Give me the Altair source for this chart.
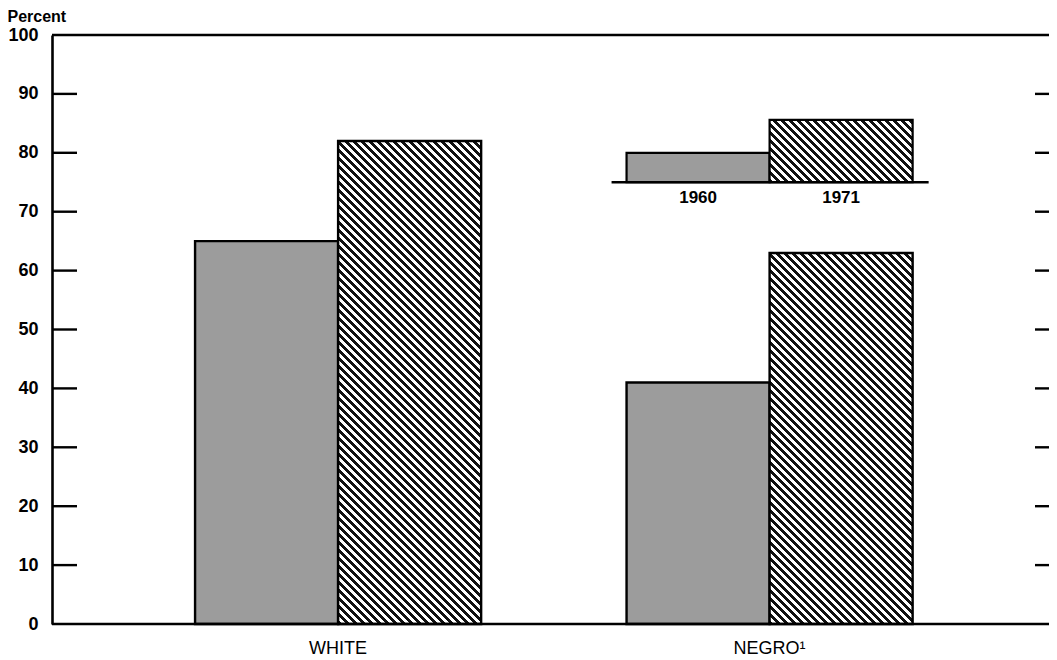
import math
import altair as alt
import pandas as pd

# ---- data ----
groups = ["WHITE", "NEGRO¹"]
years = ["1960", "1971"]
white_values = [65, 82]
negro_values = [41, 63]
tick_values = [0, 10, 20, 30, 40, 50, 60, 70, 80, 90, 100]
inner_ticks = [10, 20, 30, 40, 50, 60, 70, 80, 90]
legend_years = ["1960", "1971"]
legend_base = 75
legend_tops = [80, 85.6]

# ---- layout ----
W, H = 997, 589
PAD_INNER, PAD_OUTER, ALIGN = 0.337, 0.3238, 0.512
FONT = "Liberation Sans"
GRAY = "#9c9c9c"

step = W / (len(groups) - PAD_INNER + 2 * PAD_OUTER)
bar_w = step * (1 - PAD_INNER) / 2


def hatch(w, h, period=5.66, frac=0.5):
    """Diagonal '\\' hatch as a hard-stop linear gradient on a w x h box."""
    c = (w + h) / (w * w + h * h)
    span = (w + h) / math.sqrt(2)
    n = span / period
    stops = []
    for i in range(int(n) + 1):
        o0 = min(i / n, 1.0)
        o1 = min((i + frac) / n, 1.0)
        o2 = min((i + 1) / n, 1.0)
        stops += [
            {"offset": round(o0, 5), "color": "#111111"},
            {"offset": round(o1, 5), "color": "#111111"},
            {"offset": round(o1, 5), "color": "#ffffff"},
            {"offset": round(o2, 5), "color": "#ffffff"},
        ]
    return {
        "gradient": "linear",
        "x1": 0, "y1": 1,
        "x2": round(c * w, 6), "y2": round(1 - c * h, 6),
        "stops": stops,
    }


rows = []
for g, vals in zip(groups, [white_values, negro_values]):
    for y, v in zip(years, vals):
        rows.append({"group": g, "year": y, "value": v})
bars = pd.DataFrame(rows)

legend = pd.DataFrame({
    "group": [groups[1]] * len(legend_years),
    "year": legend_years,
    "top": legend_tops,
    "base": [legend_base] * len(legend_years),
})
ticks_df = pd.DataFrame({"t": inner_ticks})
frame_df = pd.DataFrame({"t": [0, 100]})

xscale = alt.Scale(domain=groups, paddingInner=PAD_INNER, paddingOuter=PAD_OUTER, align=ALIGN)
xoff = alt.XOffset("year:N", scale=alt.Scale(domain=years, paddingInner=0, paddingOuter=0))
yscale = alt.Scale(domain=[0, 100], nice=False, zero=True)

x_enc = alt.X(
    "group:N", scale=xscale, title=None,
    axis=alt.Axis(orient="bottom", domain=False, ticks=False, labelAngle=0,
                  labelFontSize=18, labelFont=FONT, labelColor="black",
                  labelPadding=15, labelFontWeight="normal"),
)
y_enc = alt.Y(
    "value:Q", scale=yscale,
    axis=alt.Axis(values=tick_values, tickSize=0, grid=False, domainColor="black",
                  domainWidth=2.6, labelFontSize=18, labelFont=FONT, labelFontWeight="bold",
                  labelColor="black", labelPadding=14, title="Percent", titleAngle=0,
                  titleX=-45, titleY=-14, titleAlign="left", titleBaseline="alphabetic",
                  titleFontSize=16, titleFont=FONT, titleFontWeight="bold", titleColor="black"),
)

base = alt.Chart(bars)

gray_bars = base.transform_filter(alt.datum.year == "1960").mark_bar(
    fill=GRAY, stroke="black", strokeWidth=2.4
).encode(x=x_enc, xOffset=xoff, y=y_enc)

hatch_layers = []
for g, vals in zip(groups, [white_values, negro_values]):
    v = vals[1]
    hatch_layers.append(
        base.transform_filter((alt.datum.year == "1971") & (alt.datum.group == g)).mark_bar(
            fill=hatch(bar_w, v * H / 100), stroke="black", strokeWidth=2.4
        ).encode(x=alt.X("group:N", scale=xscale), xOffset=xoff, y=alt.Y("value:Q", scale=yscale))
    )

# inset legend
leg = alt.Chart(legend)
leg_gray = leg.transform_filter(alt.datum.year == "1960").mark_bar(
    fill=GRAY, stroke="black", strokeWidth=2.2
).encode(x=alt.X("group:N", scale=xscale), xOffset=xoff,
         y=alt.Y("top:Q", scale=yscale), y2="base:Q")
leg_hatch = leg.transform_filter(alt.datum.year == "1971").mark_bar(
    fill=hatch(bar_w, (legend_tops[1] - legend_base) * H / 100), stroke="black", strokeWidth=2.2
).encode(x=alt.X("group:N", scale=xscale), xOffset=xoff,
         y=alt.Y("top:Q", scale=yscale), y2="base:Q")
leg_line = leg.transform_filter(alt.datum.year == "1960").mark_rule(
    color="black", strokeWidth=2.4, xOffset=-15, x2Offset=16
).encode(x=alt.X("group:N", scale=xscale, bandPosition=0),
         x2=alt.X2("group:N", bandPosition=1),
         y=alt.Y("base:Q", scale=yscale))
leg_text = leg.mark_text(
    font=FONT, fontSize=17, fontWeight="bold", color="black", baseline="alphabetic", dy=21
).encode(x=alt.X("group:N", scale=xscale), xOffset=xoff,
         y=alt.Y("base:Q", scale=yscale), text="year:N")

# inward ticks on both sides and the frame lines
left_ticks = alt.Chart(ticks_df).mark_rule(color="black", strokeWidth=2.4).encode(
    y=alt.Y("t:Q", scale=yscale), x=alt.value(0), x2=alt.value(25))
right_ticks = alt.Chart(ticks_df).mark_rule(color="black", strokeWidth=2.4).encode(
    y=alt.Y("t:Q", scale=yscale), x=alt.value(W - 14), x2=alt.value(W))
frame = alt.Chart(frame_df).mark_rule(color="black", strokeWidth=2.4).encode(
    y=alt.Y("t:Q", scale=yscale), x=alt.value(0), x2=alt.value(W))

chart = alt.layer(
    gray_bars, *hatch_layers, leg_gray, leg_hatch, leg_line, leg_text,
    left_ticks, right_ticks, frame,
).properties(
    width=W, height=H,
    autosize="none",
    padding={"left": 44, "top": 27, "right": 0, "bottom": 36},
    background="white",
).configure_view(stroke=None)

chart.save("out.html", embed_options={"renderer": "svg", "actions": False})
